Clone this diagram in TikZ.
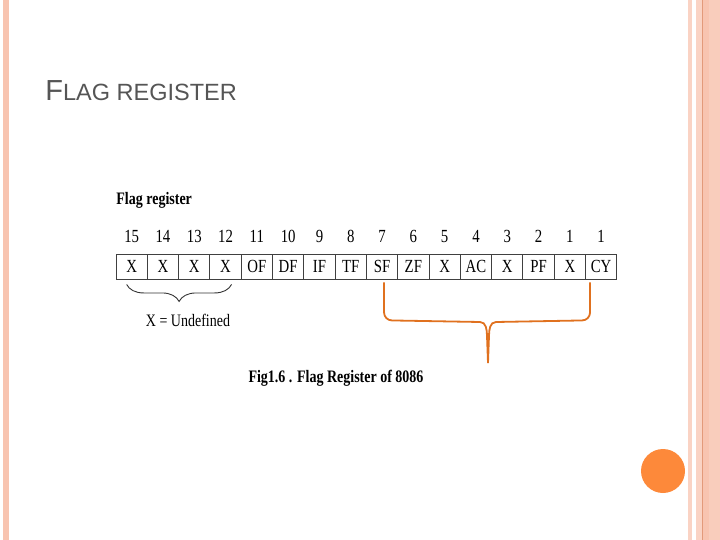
\documentclass[tikz,border=0pt]{standalone}
\usepackage{fontspec}
\setmainfont{Liberation Serif}
\newfontfamily\figfont{Liberation Serif}[FakeStretch=0.8]
\newfontfamily\titlefont{Liberation Sans}
\usetikzlibrary{arrows.meta,decorations.pathreplacing,positioning,calc}
\definecolor{stripe}{HTML}{F8C4B0}
\definecolor{stripelight}{HTML}{FAD3C4}
\definecolor{stripedark}{HTML}{E39A7A}
\definecolor{titlegray}{HTML}{555555}
\definecolor{bracketorange}{HTML}{E0711F}
\definecolor{dotorange}{HTML}{FD893A}
\tikzset{
  every picture/.style={line width=0.75pt},
  cell/.style={draw=black!75,line width=0.9pt,minimum width=31.3pt,minimum height=25pt,
    inner sep=0pt,text height=12pt,text depth=1pt,font=\figfont\fontsize{18.5}{18.5}\selectfont},
  bitnum/.style={inner sep=0pt,text height=12pt,text depth=1pt,font=\figfont\fontsize{18.5}{18.5}\selectfont},
  figtext/.style={inner sep=0pt,font=\figfont\fontsize{17.5}{17.5}\selectfont},
  orangebrace/.style={draw=bracketorange,line width=1.8pt}
}

\begin{document}
\begin{tikzpicture}[x=1pt,y=-1pt]
    \useasboundingbox (0,0) rectangle (720,540);
    % slide borders
    \fill[stripe] (3,0) rectangle (9,540);
    \fill[stripelight] (688,0) rectangle (692,540);
    \fill[stripelight] (696,0) rectangle (702,540);
    \fill[stripe] (702,0) rectangle (709,540);
    \fill[stripe!85] (709,0) rectangle (720,540);
    \draw[stripedark,line width=0.8pt] (702.5,0) -- (702.5,540);

    % title
    \node[anchor=base west,inner sep=0pt,text=titlegray] (title) at (45,101)
      {\titlefont{\fontsize{29}{29}\selectfont F}\fontsize{23.5}{23.5}\selectfont LAG REGISTER};

    % heading of the figure
    \node[figtext,anchor=west] (head) at (116,200) {\bfseries Flag register};

    % register cells and bit numbers
    \foreach \lbl [count=\i] in {X,X,X,X,OF,DF,IF,TF,SF,ZF,X,AC,X,PF,X,CY} {
        \node[cell] (c\i) at ({116+31.3*(\i-0.5)},266.5) {\lbl};
    }
    \foreach \num [count=\i] in {15,14,13,12,11,10,9,8,7,6,5,4,3,2,1,1} {
        \node[bitnum] (n\i) at ({116+31.3*(\i-0.5)},237) {\num};
    }

    % undefined bits brace
    \coordinate (ul) at ($(c1.south)+(-5,5)$);
    \coordinate (ur) at ($(c4.south)+(6,5)$);
    \draw[black!80,line width=0.9pt,decorate,decoration={brace,mirror,amplitude=17pt}] (ul) -- (ur);
    \node[figtext] (undef) at (188,320) {X = Undefined};

    % orange bracket under the status flags
    \coordinate (ol) at ($(c9.south)+(2,3)$);
    \coordinate (or) at ($(c16.south west)+(5,3)$);
    \coordinate (otip) at (488,363);
    \draw[orangebrace] (ol) -- ++(0,30) to[out=-90,in=180] ++(8,8) -- (480,322)
        to[out=0,in=90] (487,336) -- (otip);
    \draw[orangebrace] (or) -- ++(0,30) to[out=-90,in=0] ++(-8,8) -- (496,322)
        to[out=180,in=90] (489,336) -- (otip);

    % caption
    \node[figtext] (caption) at (336,378) {\bfseries Fig1.6 . Flag Register of 8086};

    % orange dot
    \fill[dotorange] (663,471) circle (22);
\end{tikzpicture}
\end{document}
